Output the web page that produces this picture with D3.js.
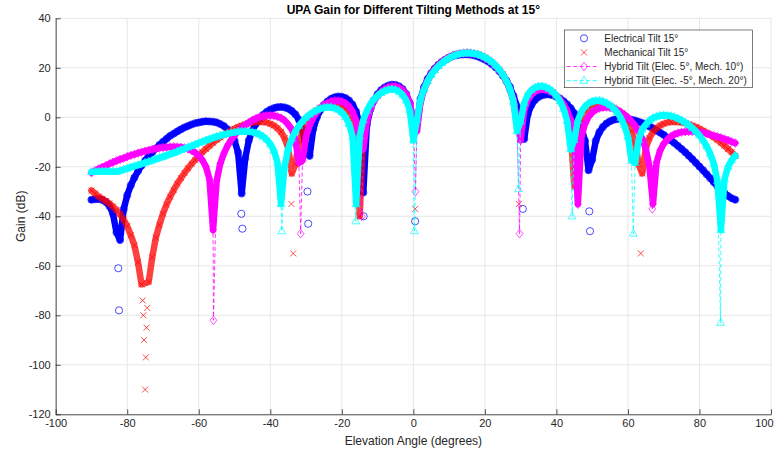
<!DOCTYPE html>
<html>
<head>
<meta charset="utf-8">
<script src="https://cdn.jsdelivr.net/npm/d3@7"></script>
<style>
	body { margin: 0; background: #fff; }
	svg text { font-family: "Liberation Sans", Arial, sans-serif; fill: #262626; }
</style>
</head>
<body>
<div id="chart"></div>
<script>

// elevation angles (degrees)
let angles = [-90,-89,-88,-87,-86,-85,-84,-83,-82,-81,-80,-79,-78,-77,-76,-75,-74,-73,-72,-71,
	-70,-69,-68,-67,-66,-65,-64,-63,-62,-61,-60,-59,-58,-57,-56,-55,-54,-53,-52,-51,
	-50,-49,-48,-47,-46,-45,-44,-43,-42,-41,-40,-39,-38,-37,-36,-35,-34,-33,-32,-31,
	-30,-29,-28,-27,-26,-25,-24,-23,-22,-21,-20,-19,-18,-17,-16,-15,-14,-13,-12,-11,
	-10,-9,-8,-7,-6,-5,-4,-3,-2,-1,0,1,2,3,4,5,6,7,8,9,
	10,11,12,13,14,15,16,17,18,19,20,21,22,23,24,25,26,27,28,29,
	30,31,32,33,34,35,36,37,38,39,40,41,42,43,44,45,46,47,48,49,
	50,51,52,53,54,55,56,57,58,59,60,61,62,63,64,65,66,67,68,69,
	70,71,72,73,74,75,76,77,78,79,80,81,82,83,84,85,86,87,88,89,90];

// gain (dB) per series, same order as angles
let elecGain = [-33.3,-33.1,-33.0,-33.4,-34.2,-35.8,-38.9,-46.5,-49.6,-37.2,
	-31.5,-27.5,-24.4,-21.8,-19.5,-17.5,-15.7,-14.1,-12.6,-11.2,
	-9.9,-8.7,-7.5,-6.6,-5.7,-4.9,-4.1,-3.5,-2.9,-2.4,
	-2.1,-1.8,-1.6,-1.7,-1.8,-2.1,-2.7,-3.5,-4.8,-6.6,
	-9.4,-14.2,-30.8,-16.5,-9.3,-5.4,-2.6,-0.6,1.0,2.2,
	3.1,3.7,4.1,4.2,4.0,3.5,2.6,1.2,-1.0,-4.8,
	-13.0,-15.6,-4.8,-0.1,2.9,5.0,6.4,7.5,8.1,8.4,
	8.3,7.8,6.8,5.1,2.3,-3.0,-30.4,-3.1,3.3,6.9,
	9.3,11.0,12.1,12.8,13.2,13.1,12.5,11.4,9.4,5.8,
	-3.1,-2.6,7.4,12.2,15.5,17.8,19.7,21.2,22.4,23.3,
	24.1,24.7,25.1,25.3,25.4,25.4,25.3,25.0,24.6,24.0,
	23.3,22.5,21.4,20.2,18.7,16.9,14.9,12.3,8.6,4.3,
	-5.1,-8.8,1.2,4.9,7.0,8.2,8.9,9.2,9.2,8.9,
	8.3,7.6,6.5,5.2,3.7,1.6,-0.9,-4.3,-9.5,-21.4,
	-17.1,-9.5,-6.0,-3.9,-2.5,-1.6,-1.0,-0.7,-0.5,-0.5,
	-0.7,-1.0,-1.3,-1.8,-2.3,-3.0,-3.7,-4.4,-5.3,-6.2,
	-7.1,-8.2,-9.3,-10.4,-11.6,-12.8,-14.1,-15.5,-16.9,-18.4,
	-19.9,-21.4,-23.0,-24.6,-26.2,-27.8,-29.3,-30.6,-31.8,-32.7,
	-33.3];

let mechGain = [-29.6,-30.8,-32.0,-32.9,-33.8,-34.8,-36.0,-37.5,-39.2,-41.4,
	-44.0,-47.6,-51.7,-58.5,-67.5,-110,-66.5,-56.5,-48.6,-43.5,
	-38.9,-35.2,-32.1,-29.4,-26.8,-24.6,-22.5,-20.6,-18.8,-17.2,
	-15.6,-14.1,-12.8,-11.5,-10.3,-9.1,-8.1,-7.1,-6.2,-5.4,
	-4.6,-3.9,-3.3,-2.8,-2.4,-2.1,-1.9,-1.8,-1.9,-2.1,
	-2.6,-3.3,-4.4,-5.9,-8.4,-12.4,-22.7,-19.0,-10.2,-5.6,
	-2.6,-0.3,1.5,2.8,3.9,4.7,5.2,5.5,5.5,5.3,
	4.7,3.6,1.9,-1.0,-6.4,-40,-5.5,0.7,4.4,6.9,
	8.7,10.1,11.1,11.8,12.0,11.9,11.4,10.3,8.4,4.8,
	-3.7,-3.8,6.5,11.1,14.7,17.4,19.3,20.9,22.2,23.3,
	24.2,24.9,25.4,25.7,26.0,26.1,26.0,25.7,25.4,24.9,
	24.2,23.3,22.2,20.9,19.3,17.4,14.7,11.1,6.5,-3.8,
	-3.7,4.8,8.4,10.3,11.4,11.9,12.0,11.8,11.1,10.1,
	8.7,6.9,4.4,0.7,-5.5,-28,-6.4,-1.0,1.9,3.6,
	4.7,5.3,5.5,5.5,5.2,4.7,3.9,2.8,1.5,-0.3,
	-2.6,-5.6,-10.2,-19.0,-22.7,-12.4,-8.4,-5.9,-4.4,-3.3,
	-2.6,-2.1,-1.9,-1.8,-1.9,-2.1,-2.4,-2.8,-3.3,-3.9,
	-4.6,-5.4,-6.2,-7.1,-8.1,-9.1,-10.3,-11.5,-12.8,-14.1,
	-15.6];

// hybrid: elec 5, mech 10
let hybridAGain = [-22.4,-21.6,-20.9,-20.2,-19.5,-18.8,-18.2,-17.6,-17.0,-16.5,
	-15.9,-15.4,-15.0,-14.5,-14.1,-13.7,-13.3,-13.0,-12.7,-12.4,
	-12.2,-12.1,-12.0,-11.9,-12.0,-12.1,-12.4,-12.8,-13.4,-14.3,
	-15.5,-17.3,-19.9,-25.0,-45.5,-25.7,-18.7,-14.7,-11.6,-9.3,
	-7.3,-5.7,-4.3,-3.1,-2.1,-1.2,-0.5,0.1,0.5,0.7,
	0.8,0.7,0.3,-0.3,-1.3,-2.9,-4.8,-9.1,-18.4,-17.5,
	-7.8,-3.2,-0.2,2.0,3.7,4.9,5.8,6.4,6.7,6.7,
	6.4,5.7,4.4,2.3,-1.3,-9.1,-12.9,-1.5,3.5,6.6,
	8.8,10.4,11.5,12.2,12.5,12.5,12.0,11.0,9.2,5.9,
	-1.6,-5.6,6.3,11.6,14.8,17.5,19.4,21.0,22.4,23.4,
	24.2,24.9,25.4,25.7,25.9,26.0,25.9,25.6,25.3,24.7,
	24.0,23.1,22.0,20.7,19.1,17.2,14.7,11.4,7.3,-1.1,
	-9.3,2.9,6.9,9.1,10.4,11.1,11.3,11.2,10.7,9.9,
	8.8,7.3,5.4,2.7,-1.1,-7.6,-35.1,-7.8,-2.6,0.2,
	2.0,3.1,3.7,4.0,4.1,3.9,3.5,2.9,2.1,1.1,
	-0.1,-1.6,-3.4,-5.7,-8.6,-12.8,-19.9,-35.0,-18.2,-13.4,
	-10.7,-9.0,-7.8,-6.9,-6.4,-6.0,-5.8,-5.7,-5.7,-5.8,
	-6.1,-6.3,-6.6,-7.0,-7.4,-7.8,-8.3,-8.8,-9.3,-9.9,
	-10.4];

// hybrid: elec -5, mech 20
let hybridBGain = [-22.1,-22.0,-21.9,-21.9,-21.8,-21.9,-21.9,-22.0,-21.6,-21.1,
	-20.7,-20.2,-19.7,-19.3,-18.8,-18.3,-17.9,-17.4,-16.9,-16.4,
	-15.9,-15.4,-14.9,-14.4,-13.8,-13.2,-12.7,-12.1,-11.6,-11.0,
	-10.4,-9.9,-9.3,-8.8,-8.3,-7.8,-7.4,-7.0,-6.6,-6.3,
	-6.1,-5.8,-5.7,-5.7,-5.8,-6.0,-6.4,-6.9,-7.8,-9.0,
	-10.7,-13.4,-18.2,-35.0,-19.9,-12.8,-8.6,-5.7,-3.4,-1.6,
	-0.1,1.1,2.1,2.9,3.5,3.9,4.1,4.0,3.7,3.1,
	2.0,0.2,-2.6,-7.8,-35.1,-7.6,-1.1,2.7,5.4,7.3,
	8.8,9.9,10.7,11.2,11.3,11.1,10.4,9.1,6.9,2.9,
	-9.3,-1.1,7.3,11.4,14.7,17.2,19.1,20.7,22.0,23.1,
	24.0,24.7,25.3,25.6,25.9,26.0,25.9,25.7,25.4,24.9,
	24.2,23.4,22.4,21.0,19.4,17.5,14.8,11.6,6.3,-5.6,
	-1.6,5.9,9.2,11.0,12.0,12.5,12.5,12.2,11.5,10.4,
	8.8,6.6,3.5,-1.5,-12.9,-9.1,-1.3,2.3,4.4,5.7,
	6.4,6.7,6.7,6.4,5.8,4.9,3.7,2.0,-0.2,-3.2,
	-7.8,-17.5,-18.4,-9.1,-4.8,-2.9,-1.3,-0.3,0.3,0.7,
	0.8,0.7,0.5,0.1,-0.5,-1.2,-2.1,-3.1,-4.3,-5.7,
	-7.3,-9.3,-11.6,-14.7,-18.7,-25.7,-45.5,-25.0,-19.9,-17.3,
	-15.5];

// extra samples picked up right inside the nulls [angle, gain]
let elecNulls = [[-82.3,-78],[-82.5,-61],[-48.1,-39],[-47.8,-45],[-29.6,-30],[-29.4,-43],[-13.9,-40],
	[0.5,-42],[30.6,-37],[49.2,-38],[49.4,-46]];
let mechNulls = [[-75.7,-74],[-75.5,-80],[-75.3,-90],[-74.8,-97],[-74.6,-85],[-74.4,-77],
	[-34.1,-35],[-33.6,-55],[0.5,-37],[29.5,-35],[63.6,-55]];
let hybridANulls = [[-55.9,-82],[-31.5,-47],[-14.4,-40],[0.6,-30],[29.7,-47],[66.8,-37]];
let hybridBNulls = [[-36.8,-46],[-16.1,-42],[0.3,-46],[29.4,-29],[44.4,-40],[61.5,-47],[85.9,-83]];

let seriesNames = ["Electrical Tilt 15°", "Mechanical Tilt 15°",
	"Hybrid Tilt (Elec. 5°, Mech. 10°)", "Hybrid Tilt (Elec. -5°, Mech. 20°)"];
let xTicks = [-100, -80, -60, -40, -20, 0, 20, 40, 60, 80, 100];
let yTicks = [-120, -100, -80, -60, -40, -20, 0, 20, 40];

let width = 774, height = 458;
let plot = {left: 55.7, right: 771, top: 18.3, bottom: 414.3};

let svg = d3.select("#chart").append("svg")
	.attr("width", width)
	.attr("height", height);

let x = d3.scaleLinear().domain([-100, 100]).range([plot.left, plot.right]);
let y = d3.scaleLinear().domain([-120, 40]).range([plot.bottom, plot.top]);

// grid
svg.append("g").selectAll("line").data(xTicks).enter().append("line")
	.attr("x1", d => x(d)).attr("x2", d => x(d))
	.attr("y1", plot.top).attr("y2", plot.bottom)
	.style("stroke", "#e6e6e6");
svg.append("g").selectAll("line").data(yTicks).enter().append("line")
	.attr("x1", plot.left).attr("x2", plot.right)
	.attr("y1", d => y(d)).attr("y2", d => y(d))
	.style("stroke", "#e6e6e6");

svg.append("clipPath").attr("id", "clip")
	.append("rect")
	.attr("x", plot.left).attr("y", plot.top)
	.attr("width", plot.right - plot.left).attr("height", plot.bottom - plot.top);

function buildSeries(gains, nulls) {
	let pts = angles.map((a, i) => ({a: a, g: gains[i], nul: false}));
	nulls.forEach(n => pts.push({a: n[0], g: n[1], nul: true}));
	pts.sort((p, q) => p.a - q.a);
	return pts;
}

// marker outlines
let markers = {
	circle: "M3.6,0A3.6,3.6 0 1,1 -3.6,0A3.6,3.6 0 1,1 3.6,0Z",
	cross: "M-3,-3L3,3M-3,3L3,-3",
	diamond: "M0,-4.3L3.4,0L0,4.3L-3.4,0Z",
	triangle: "M0,-4.4L3.9,2.6L-3.9,2.6Z"
};

let series = [
	{name: seriesNames[0], pts: buildSeries(elecGain, elecNulls), color: "#0000ff", marker: "circle", dashed: false, band: 1},
	{name: seriesNames[1], pts: buildSeries(mechGain, mechNulls), color: "#ff0000", marker: "cross", dashed: false, band: 0.75},
	{name: seriesNames[2], pts: buildSeries(hybridAGain, hybridANulls), color: "#ff00ff", marker: "diamond", dashed: true, band: 1},
	{name: seriesNames[3], pts: buildSeries(hybridBGain, hybridBNulls), color: "#00ffff", marker: "triangle", dashed: true, band: 1}
];

let line = d3.line()
	.x(d => x(d.a))
	.y(d => y(d.g));

let plotArea = svg.append("g").attr("clip-path", "url(#clip)");

series.forEach(s => {
	let g = plotArea.append("g");

	// dense markers in the original merge into a thick band;
	// the deep null samples stay as single markers
	g.append("path")
		.datum(s.pts.filter(d => !d.nul && d.g > -70))
		.attr("d", line)
		.style("fill", "none")
		.style("stroke", s.color)
		.style("stroke-opacity", s.band)
		.style("stroke-width", 6.5)
		.style("stroke-linejoin", "round")
		.style("stroke-linecap", "round");

	if (s.dashed) {
		g.append("path")
			.datum(s.pts)
			.attr("d", line)
			.style("fill", "none")
			.style("stroke", s.color)
			.style("stroke-width", 0.8)
			.style("stroke-dasharray", "4,2.5");
	}

	g.selectAll(".mk")
		.data(s.pts)
		.enter()
		.append("path")
		.attr("class", "mk")
		.attr("d", markers[s.marker])
		.attr("transform", d => "translate(" + x(d.a) + "," + y(d.g) + ")")
		.style("fill", "none")
		.style("stroke", s.color)
		.style("stroke-width", 0.7);
});

// axes, MATLAB style ticks pointing inward
let xAxis = d3.axisBottom(x)
	.tickValues(xTicks)
	.tickSizeInner(-5)
	.tickSizeOuter(0)
	.tickPadding(5)
	.tickFormat(d => String(d));

let yAxis = d3.axisLeft(y)
	.tickValues(yTicks)
	.tickSizeInner(-5)
	.tickSizeOuter(0)
	.tickPadding(5)
	.tickFormat(d => String(d));

let gx = svg.append("g")
	.attr("class", "axis x-axis")
	.attr("transform", "translate(0," + plot.bottom + ")")
	.call(xAxis);

let gy = svg.append("g")
	.attr("class", "axis y-axis")
	.attr("transform", "translate(" + plot.left + ",0)")
	.call(yAxis);

[gx, gy].forEach(a => {
	a.selectAll("path, line").style("stroke", "#262626").style("stroke-width", 0.8);
	a.selectAll("text").style("font-size", "11px").style("fill", "#262626");
});

// last x label sits at the window edge: keep it inside
gx.selectAll(".tick text")
	.filter(d => d === 100)
	.attr("text-anchor", "end")
	.attr("x", 2);

// labels
svg.append("text")
	.attr("x", x(0))
	.attr("y", 13.5)
	.attr("text-anchor", "middle")
	.style("font-size", "12px")
	.style("font-weight", "bold")
	.style("fill", "#000")
	.text("UPA Gain for Different Tilting Methods at 15°");

svg.append("text")
	.attr("x", x(0))
	.attr("y", 445)
	.attr("text-anchor", "middle")
	.style("font-size", "12px")
	.text("Elevation Angle (degrees)");

svg.append("text")
	.attr("transform", "translate(25," + ((plot.top + plot.bottom) / 2) + ")rotate(-90)")
	.attr("text-anchor", "middle")
	.style("font-size", "12px")
	.text("Gain (dB)");

// legend
let legend = svg.append("g").attr("transform", "translate(564.3,30)");
legend.append("rect")
	.attr("width", 188)
	.attr("height", 57.7)
	.style("fill", "#fff")
	.style("stroke", "#262626")
	.style("stroke-width", 0.6);

series.forEach((s, i) => {
	let row = legend.append("g").attr("transform", "translate(0," + (8.3 + i * 14.1) + ")");
	if (s.dashed) {
		row.append("line")
			.attr("x1", 2.4).attr("x2", 35)
			.attr("y1", 0).attr("y2", 0)
			.style("stroke", s.color)
			.style("stroke-width", 0.8)
			.style("stroke-dasharray", "4,2.5");
	}
	row.append("path")
		.attr("d", markers[s.marker])
		.attr("transform", "translate(19.7,0)")
		.style("fill", "none")
		.style("stroke", s.color)
		.style("stroke-width", 0.7);
	row.append("text")
		.attr("x", 40)
		.attr("y", 3.6)
		.style("font-size", "10px")
		.text(s.name);
});

</script>
</body>
</html>
